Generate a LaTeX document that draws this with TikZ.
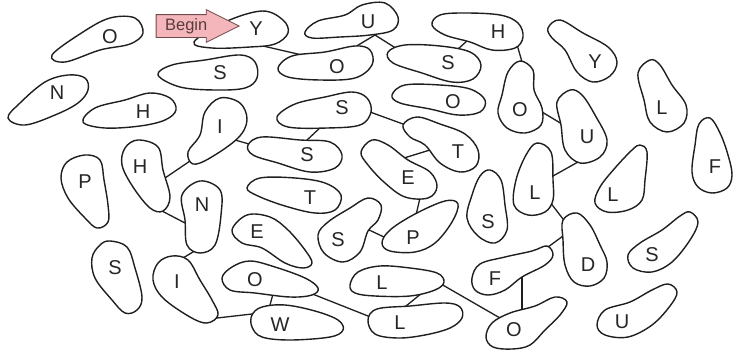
\documentclass[tikz,border=0pt]{standalone}
\usepackage{fontspec}
\setmainfont{Liberation Sans}
\usetikzlibrary{shapes.arrows,backgrounds}

\definecolor{beginpink}{HTML}{F4B6BA}
\definecolor{beginedge}{HTML}{6E4B4B}

\begin{document}
\begin{tikzpicture}[x=1pt, y=-1pt,
  blob/.style={draw=black!88, line width=1.4pt, fill=white, smooth cycle, tension=0.6},
  ltr/.style={font=\fontsize{20}{20}\selectfont, inner sep=0pt, text=black!85},
  link/.style={draw=black!88, line width=1.3pt, shorten <=-2pt, shorten >=-2pt},
  go/.style={single arrow, draw=beginedge, fill=beginpink, line width=0.8pt,
    font=\fontsize{16.5}{16.5}\selectfont, text=beginedge!80!black,
    text height=11pt, text depth=3pt, inner xsep=2pt, inner ysep=4pt,
    minimum height=83pt, single arrow head extend=5pt, single arrow tip angle=53}]

  \useasboundingbox (0,0) rectangle (733,351);

  % --- the path: you should follow in his steps ---
  \draw[blob] plot coordinates {(194,42) (225,22) (262,11) (283,20) (288,33) (275,44) (250,47) (212,48)};
  \node[ltr] (y1) at (256,29) {Y};
  \draw[blob] plot coordinates {(278,68) (292,56) (325,52) (355,46) (370,50) (372,65) (355,78) (320,80) (288,77)};
  \node[ltr] (o1) at (337,67) {O};
  \draw[blob] plot coordinates {(305,32) (318,21) (345,15) (362,5) (385,3) (398,17) (393,30) (370,35) (340,37) (312,38)};
  \node[ltr] (u1) at (368,22) {U};
  \draw[blob] plot coordinates {(388,52) (405,45) (440,46) (470,52) (481,65) (473,79) (452,82) (422,73) (393,63)};
  \node[ltr] (s1) at (448,63) {S};
  \draw[blob] plot coordinates {(432,25) (440,15) (465,13) (500,15) (518,23) (523,37) (515,48) (492,50) (470,42) (445,35)};
  \node[ltr] (h1) at (498,32) {H};
  \draw[blob] plot coordinates {(520,61) (508,72) (502,95) (498,113) (507,128) (525,133) (541,125) (542,108) (534,90) (533,70)};
  \node[ltr] (o2) at (520,110) {O};
  \draw[blob] plot coordinates {(570,90) (557,102) (561,125) (565,150) (580,163) (600,157) (607,140) (595,115) (582,95)};
  \node[ltr] (u2) at (587,137) {U};
  \draw[blob] plot coordinates {(537,143) (551,152) (553,180) (553,200) (545,212) (528,215) (514,205) (516,180) (526,155)};
  \node[ltr] (l1) at (535,193) {L};
  \draw[blob] plot coordinates {(577,213) (590,225) (600,245) (607,262) (604,278) (590,286) (574,282) (565,265) (563,240) (563,220)};
  \node[ltr] (d1) at (588,265) {D};
  \draw[blob] plot coordinates {(472,278) (480,264) (505,257) (532,251) (547,246) (553,255) (545,265) (522,277) (505,290) (488,295) (475,290)};
  \node[ltr] (f1) at (495,279) {F};
  \draw[blob] plot coordinates {(555,297) (567,302) (560,315) (545,330) (530,345) (512,349) (493,347) (486,337) (492,323) (510,313) (535,306)};
  \node[ltr] (o3) at (514,330) {O};
  \draw[blob] plot coordinates {(350,285) (358,272) (380,266) (410,268) (437,273) (444,282) (435,290) (410,296) (375,296) (355,293)};
  \node[ltr] (l2) at (382,283) {L};
  \draw[blob] plot coordinates {(368,320) (377,309) (410,306) (445,303) (460,307) (462,318) (450,328) (425,335) (398,338) (375,334)};
  \node[ltr] (l3) at (400,323) {L};
  \draw[blob] plot coordinates {(222,278) (232,267) (250,261) (275,267) (305,278) (318,288) (312,295) (290,297) (255,293) (230,290)};
  \node[ltr] (o4) at (255,280) {O};
  \draw[blob] plot coordinates {(252,315) (262,307) (285,305) (315,311) (338,320) (343,330) (330,337) (290,340) (262,337) (252,327)};
  \node[ltr] (w1) at (280,325) {W};
  \draw[blob] plot coordinates {(172,256) (188,260) (200,280) (212,300) (218,315) (207,323) (190,317) (163,298) (153,280) (158,263)};
  \node[ltr] (i1) at (177,282) {I};
  \draw[blob] plot coordinates {(200,181) (220,190) (221,215) (215,245) (200,253) (187,245) (185,220) (182,195)};
  \node[ltr] (n1) at (202,205) {N};
  \draw[blob] plot coordinates {(138,140) (158,147) (163,170) (170,197) (163,211) (150,208) (133,187) (122,165) (125,148)};
  \node[ltr] (h2) at (140,167) {H};
  \draw[blob] plot coordinates {(220,98) (240,103) (247,120) (238,138) (210,158) (193,164) (188,152) (200,135) (205,112)};
  \node[ltr] (i2) at (220,127) {I};
  \draw[blob] plot coordinates {(248,145) (262,137) (300,140) (330,142) (342,155) (335,168) (310,172) (278,163) (253,155)};
  \node[ltr] (s2) at (307,155) {S};
  \draw[blob] plot coordinates {(277,117) (295,104) (325,97) (352,92) (367,98) (371,112) (360,125) (327,128) (288,127)};
  \node[ltr] (s3) at (342,108) {S};
  \draw[blob] plot coordinates {(403,125) (417,117) (440,124) (465,134) (478,150) (476,166) (460,172) (440,163) (425,145) (410,137)};
  \node[ltr] (t1) at (458,152) {T};
  \draw[blob] plot coordinates {(372,140) (361,152) (368,165) (385,183) (405,197) (428,198) (437,187) (430,172) (408,160) (388,145)};
  \node[ltr] (e1) at (408,178) {E};
  \draw[blob] plot coordinates {(382,243) (390,230) (415,214) (445,201) (458,204) (452,222) (435,243) (415,252) (390,251)};
  \node[ltr] (p1) at (413,238) {P};
  \draw[blob] plot coordinates {(368,198) (381,205) (378,220) (368,231) (360,252) (343,262) (324,253) (318,235) (328,222) (350,208)};
  \node[ltr] (s4) at (338,240) {S};

  % --- the blobs off the path ---
  \draw[blob] plot coordinates {(52,55) (83,32) (110,18) (135,18) (143,33) (130,44) (100,50) (65,62)};
  \node[ltr] (xo1) at (110,37) {O};
  \draw[blob] plot coordinates {(8,118) (20,103) (45,82) (68,75) (85,78) (88,90) (78,103) (55,115) (25,125)};
  \node[ltr] (xn1) at (57,93) {N};
  \draw[blob] plot coordinates {(158,75) (172,65) (205,60) (240,55) (255,62) (257,78) (245,88) (215,90) (180,87)};
  \node[ltr] (xs1) at (220,73) {S};
  \draw[blob] plot coordinates {(83,122) (95,108) (125,100) (150,93) (170,98) (176,110) (165,120) (140,126) (105,128)};
  \node[ltr] (xh1) at (143,112) {H};
  \draw[blob] plot coordinates {(392,95) (405,85) (440,85) (470,89) (485,100) (480,112) (458,115) (430,109) (400,103)};
  \node[ltr] (xo2) at (453,102) {O};
  \draw[blob] plot coordinates {(548,28) (560,20) (583,33) (608,47) (617,62) (610,76) (593,82) (577,72) (565,50) (552,38)};
  \node[ltr] (xy1) at (595,62) {Y};
  \draw[blob] plot coordinates {(650,60) (638,73) (644,100) (650,122) (667,132) (684,123) (686,105) (672,85) (660,65)};
  \node[ltr] (xl1) at (662,108) {L};
  \draw[blob] plot coordinates {(710,118) (699,124) (695,145) (692,172) (698,187) (712,193) (727,188) (732,175) (728,155) (720,133)};
  \node[ltr] (xf1) at (715,167) {F};
  \draw[blob] plot coordinates {(85,155) (100,160) (104,180) (108,205) (108,222) (97,228) (85,218) (68,198) (61,178) (67,162)};
  \node[ltr] (xp1) at (85,182) {P};
  \draw[blob] plot coordinates {(247,188) (260,178) (295,178) (325,183) (341,195) (335,210) (315,213) (285,206) (258,196)};
  \node[ltr] (xt1) at (310,198) {T};
  \draw[blob] plot coordinates {(247,215) (270,217) (288,230) (305,250) (312,263) (303,268) (285,263) (262,248) (242,243) (232,230)};
  \node[ltr] (xe1) at (257,232) {E};
  \draw[blob] plot coordinates {(490,170) (501,180) (505,205) (507,230) (495,243) (478,236) (467,218) (472,195) (480,176)};
  \node[ltr] (xs2) at (488,222) {S};
  \draw[blob] plot coordinates {(640,145) (647,152) (645,180) (642,200) (628,210) (607,212) (595,203) (600,187) (615,168) (632,150)};
  \node[ltr] (xl2) at (613,195) {L};
  \draw[blob] plot coordinates {(690,212) (698,222) (690,240) (672,262) (652,272) (633,268) (628,255) (640,243) (662,230) (680,216)};
  \node[ltr] (xs3) at (652,255) {S};
  \draw[blob] plot coordinates {(110,241) (127,247) (135,268) (142,297) (137,310) (125,313) (112,300) (95,278) (92,258) (100,245)};
  \node[ltr] (xs4) at (115,268) {S};
  \draw[blob] plot coordinates {(668,284) (677,292) (670,306) (652,325) (628,337) (605,335) (597,325) (605,310) (630,302) (652,290)};
  \node[ltr] (xu1) at (622,322) {U};

  % --- start marker ---
  \node[go, anchor=tip] (begin) at (240,26) {Begin};

  % --- joints on the outlines, then the links ---
  \coordinate (y1-o1) at (263,46);  \coordinate (o1-y1) at (302,55);
  \coordinate (o1-u1) at (355,47);  \coordinate (u1-o1) at (375,35);
  \coordinate (u1-s1) at (375,35);  \coordinate (s1-u1) at (394,47);
  \coordinate (s1-h1) at (458,49);  \coordinate (h1-s1) at (468,40);
  \coordinate (h1-o2) at (518,48);  \coordinate (o2-h1) at (522,62);
  \coordinate (o2-u2) at (542,112); \coordinate (u2-o2) at (562,124);
  \coordinate (u2-l1) at (578,162); \coordinate (l1-u2) at (553,176);
  \coordinate (l1-d1) at (553,206); \coordinate (d1-l1) at (563,219);
  \coordinate (d1-f1) at (563,236); \coordinate (f1-d1) at (548,247);
  \coordinate (f1-o3) at (522,277); \coordinate (o3-f1) at (522,310);
  \coordinate (o3-l2) at (500,318); \coordinate (l2-o3) at (441,284);
  \coordinate (l2-l3) at (422,293); \coordinate (l3-l2) at (406,306);
  \coordinate (l3-o4) at (368,316); \coordinate (o4-l3) at (315,295);
  \coordinate (o4-w1) at (273,294); \coordinate (w1-o4) at (270,305);
  \coordinate (w1-i1) at (252,314); \coordinate (i1-w1) at (217,318);
  \coordinate (i1-n1) at (183,258); \coordinate (n1-i1) at (193,252);
  \coordinate (n1-h2) at (185,223); \coordinate (h2-n1) at (162,211);
  \coordinate (h2-i2) at (165,178); \coordinate (i2-h2) at (190,161);
  \coordinate (i2-s2) at (235,140); \coordinate (s2-i2) at (249,144);
  \coordinate (s2-s3) at (307,140); \coordinate (s3-s2) at (322,126);
  \coordinate (s3-t1) at (370,112); \coordinate (t1-s3) at (403,124);
  \coordinate (t1-e1) at (430,150); \coordinate (e1-t1) at (404,158);
  \coordinate (e1-p1) at (420,198); \coordinate (p1-e1) at (416,215);
  \coordinate (p1-s4) at (384,237); \coordinate (s4-p1) at (367,229);

  \begin{scope}[on background layer]
    \draw[link] (y1-o1) -- (o1-y1);  \draw[link] (o1-u1) -- (u1-o1);
    \draw[link] (u1-s1) -- (s1-u1);  \draw[link] (s1-h1) -- (h1-s1);
    \draw[link] (h1-o2) -- (o2-h1);  \draw[link] (o2-u2) -- (u2-o2);
    \draw[link] (u2-l1) -- (l1-u2);  \draw[link] (l1-d1) -- (d1-l1);
    \draw[link] (d1-f1) -- (f1-d1);  \draw[link] (f1-o3) -- (o3-f1);
    \draw[link] (o3-l2) -- (l2-o3);  \draw[link] (l2-l3) -- (l3-l2);
    \draw[link] (l3-o4) -- (o4-l3);  \draw[link] (o4-w1) -- (w1-o4);
    \draw[link] (w1-i1) -- (i1-w1);  \draw[link] (i1-n1) -- (n1-i1);
    \draw[link] (n1-h2) -- (h2-n1);  \draw[link] (h2-i2) -- (i2-h2);
    \draw[link] (i2-s2) -- (s2-i2);  \draw[link] (s2-s3) -- (s3-s2);
    \draw[link] (s3-t1) -- (t1-s3);  \draw[link] (t1-e1) -- (e1-t1);
    \draw[link] (e1-p1) -- (p1-e1);  \draw[link] (p1-s4) -- (s4-p1);
  \end{scope}
\end{tikzpicture}
\end{document}
